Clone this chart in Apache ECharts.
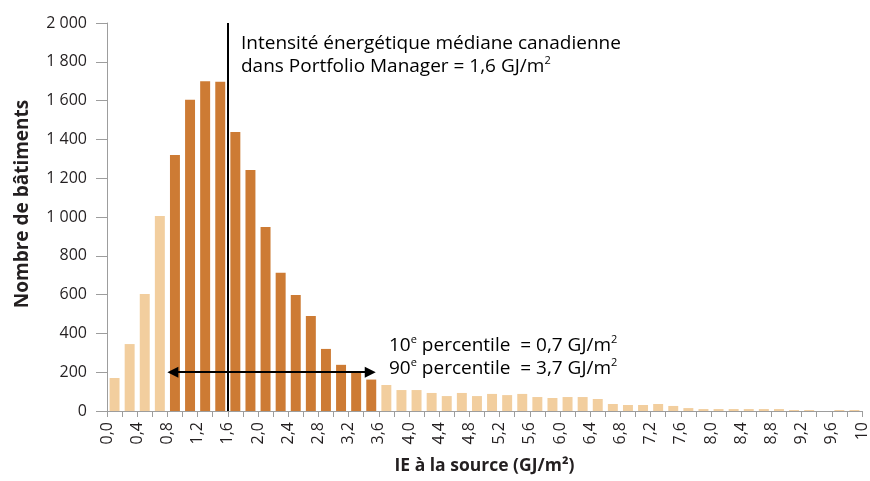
<!DOCTYPE html>
<html>
<head>
<meta charset="utf-8">
<script src="https://cdn.jsdelivr.net/npm/echarts@6/dist/echarts.min.js"></script>
<style>
html,body{margin:0;padding:0;background:#fff;}
#chart{width:870px;height:481px;}
</style>
</head>
<body>
<div id="chart"></div>
<script>
// Bins of 0,2 GJ/m² (start of each bin)
const binStarts = [0.0,0.2,0.4,0.6,0.8,1.0,1.2,1.4,1.6,1.8,2.0,2.2,2.4,2.6,2.8,3.0,3.2,3.4,3.6,3.8,
  4.0,4.2,4.4,4.6,4.8,5.0,5.2,5.4,5.6,5.8,6.0,6.2,6.4,6.6,6.8,7.0,7.2,7.4,7.6,7.8,
  8.0,8.2,8.4,8.6,8.8,9.0,9.2,9.4,9.6,9.8];
// Number of buildings per bin
const counts = [170,345,603,1005,1320,1605,1700,1697,1438,1242,948,712,598,490,320,238,200,162,134,108,
  108,93,77,93,77,88,82,88,72,67,72,72,62,36,31,31,36,26,15,10,
  10,10,10,10,10,5,5,0,5,5];
// Bins between these bounds are highlighted (dark)
const highlightFrom = 0.8;
const highlightTo = 3.6;
const median = 1.6;
const arrowFrom = 0.8;
const arrowTo = 3.56;
const arrowLevel = 200;
const xTickLabels = ['0,0','0,4','0,8','1,2','1,6','2,0','2,4','2,8','3,2','3,6','4,0','4,4','4,8',
  '5,2','5,6','6,0','6,4','6,8','7,2','7,6','8,0','8,4','8,8','9,2','9,6','10'];
const yTickLabels = ['0','200','400','600','800','1 000','1 200','1 400','1 600','1 800','2 000'];

const FONT = 'Open Sans';
const TXT = '#231f20';
const DARK = '#cd7b34';
const LIGHT = '#f2ce9e';
const AXIS = '#9d9d9d';
const HEAD = 11;

const chart = echarts.init(document.getElementById('chart'));

const barData = counts.map((v, i) => ({
  value: v,
  itemStyle: {color: (binStarts[i] >= highlightFrom - 1e-9 && binStarts[i] < highlightTo - 1e-9) ? DARK : LIGHT}
}));

const richStyles = {
  n: {fontFamily: FONT, fontSize: 19, color: TXT, lineHeight: 23},
  s: {fontFamily: FONT, fontSize: 11, color: TXT, lineHeight: 23, verticalAlign: 'top'}
};

function arrowSeries(from, to) {
  return {
    id: 'arrow',
    type: 'line',
    xAxisIndex: 1,
    data: [],
    silent: true,
    markLine: {
      silent: true,
      symbol: ['triangle', 'triangle'],
      symbolSize: [HEAD, HEAD],
      label: {show: false},
      lineStyle: {color: '#000', width: 2, type: 'solid'},
      data: [[{coord: [from, arrowLevel]}, {coord: [to, arrowLevel]}]]
    }
  };
}

chart.setOption({
  animation: false,
  textStyle: {fontFamily: FONT, color: TXT},
  grid: {left: 107, right: 6, top: 23, bottom: 70},
  xAxis: [{
    type: 'category',
    data: binStarts.map(String),
    boundaryGap: true,
    axisLine: {lineStyle: {color: AXIS, width: 1}},
    axisTick: {show: true, interval: 0, length: 6, lineStyle: {color: AXIS}},
    axisLabel: {show: false},
    splitLine: {show: false}
  }, {
    type: 'value',
    position: 'bottom',
    min: 0, max: 10, interval: 0.4,
    axisLine: {show: false},
    axisTick: {show: false},
    splitLine: {show: false},
    axisLabel: {
      rotate: 90, margin: 11, fontSize: 16, color: TXT, fontFamily: FONT,
      showMaxLabel: true, showMinLabel: true,
      formatter: v => xTickLabels[Math.round(v / 0.4)]
    },
    name: 'IE à la source (GJ/m²)',
    nameLocation: 'middle',
    nameGap: 46,
    nameTextStyle: {fontFamily: FONT, fontWeight: 'bold', fontSize: 17.5, color: TXT}
  }],
  yAxis: {
    type: 'value',
    min: 0, max: 2000, interval: 200,
    axisLine: {show: true, lineStyle: {color: AXIS}},
    axisTick: {show: true, length: 11, lineStyle: {color: AXIS}},
    splitLine: {show: false},
    axisLabel: {
      margin: 20, fontSize: 16, color: TXT, fontFamily: FONT,
      formatter: v => yTickLabels[Math.round(v / 200)]
    },
    name: 'Nombre de bâtiments',
    nameLocation: 'middle',
    nameGap: 75,
    nameTextStyle: {fontFamily: FONT, fontWeight: 'bold', fontSize: 19, color: TXT, padding: [0,0,0,26]}
  },
  series: [{
    type: 'bar',
    xAxisIndex: 0,
    data: barData,
    barCategoryGap: '34%',
    silent: true
  }, {
    type: 'line',
    xAxisIndex: 1,
    data: [],
    silent: true,
    markLine: {
      silent: true,
      symbol: ['none', 'none'],
      label: {show: false},
      lineStyle: {color: '#000', width: 2, type: 'solid'},
      data: [[{coord: [median, 0]}, {coord: [median, 2000]}]]
    }
  }, arrowSeries(arrowFrom, arrowTo)],
  graphic: [{
    type: 'text',
    left: 241, top: 34,
    silent: true,
    style: {
      text: '{n|Intensité énergétique médiane canadienne}\n{n|dans Portfolio Manager = 1,6 GJ/m}{s|2}',
      rich: richStyles
    }
  }, {
    type: 'text',
    left: 389, top: 334,
    silent: true,
    style: {
      text: '{n|10}{s|e}{n| percentile  = 0,7 GJ/m}{s|2}\n{n|90}{s|e}{n| percentile  = 3,7 GJ/m}{s|2}',
      rich: richStyles
    }
  }]
});

// Arrowheads are centred on the line ends: pull the ends in so the tips land on the values.
const pxFrom = chart.convertToPixel({xAxisIndex: 1}, arrowFrom) + HEAD / 2;
const pxTo = chart.convertToPixel({xAxisIndex: 1}, arrowTo) - HEAD / 2;
chart.setOption({
  series: [{}, {}, arrowSeries(
    chart.convertFromPixel({xAxisIndex: 1}, pxFrom),
    chart.convertFromPixel({xAxisIndex: 1}, pxTo)
  )]
});
</script>
</body>
</html>
